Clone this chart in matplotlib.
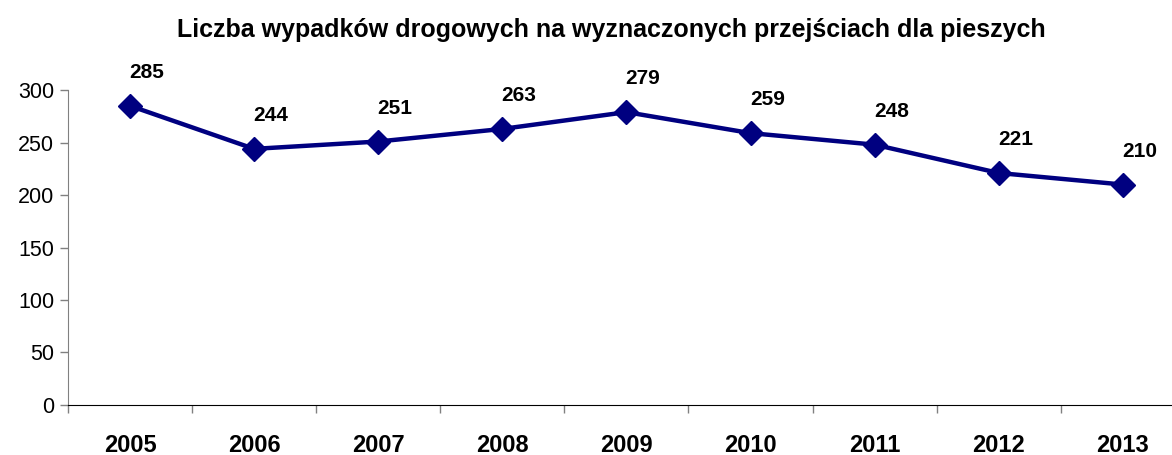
import numpy as np
import matplotlib.pyplot as plt

plt.rcParams['font.family'] = ['Liberation Sans', 'DejaVu Sans']

years = ["2005", "2006", "2007", "2008", "2009", "2010", "2011", "2012", "2013"]
accidents = [285, 244, 251, 263, 279, 259, 248, 221, 210]

fig = plt.figure(figsize=(11.72, 4.55), dpi=100)
# the x axis runs slightly past the right edge of the picture, as in the original
ax = fig.add_axes([0.058, 0.110, 0.953, 0.692])

x = np.arange(len(years))
ax.plot(x, accidents, color='#000080', linewidth=3.2, marker='D', markersize=12,
        markerfacecolor='#000080', markeredgecolor='#000080')

for xi, v in zip(x, accidents):
    ax.annotate(str(v), (xi, v), xytext=(12, 24), textcoords='offset points',
                ha='center', va='center', fontsize=15, fontweight='bold')

ax.set_xlim(-0.5, len(years) - 0.5)
ax.set_ylim(0, 300)
ax.set_yticks(np.arange(0, 301, 50))
ax.tick_params(axis='y', labelsize=15.5, length=6, width=1, color='#808080', pad=4)

# category labels between tick marks
ax.set_xticks(np.arange(-0.5, len(years), 1))
ax.set_xticklabels([])
ax.set_xticks(x, minor=True)
ax.set_xticklabels(years, minor=True, fontsize=17, fontweight='bold')
ax.tick_params(axis='x', which='major', length=6, width=1, color='#808080')
ax.tick_params(axis='x', which='minor', length=0, pad=21)

for s in ['top', 'right']:
    ax.spines[s].set_visible(False)
ax.spines['left'].set_color('#808080')
ax.spines['bottom'].set_color('black')

fig.suptitle("Liczba wypadków drogowych na wyznaczonych przejściach dla pieszych",
             x=0.522, y=0.960, fontsize=18, fontweight='bold')

fig.savefig("out.png", dpi=100)
